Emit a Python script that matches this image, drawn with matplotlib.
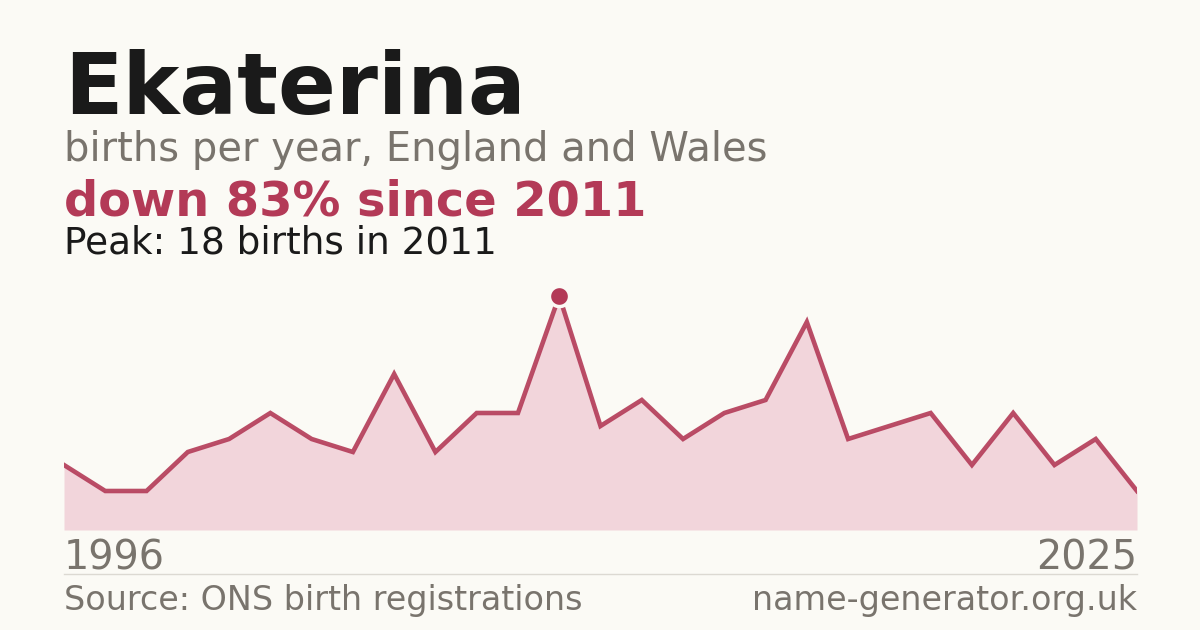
import numpy as np
import matplotlib.pyplot as plt

# Data (equally spaced points, first and last years labelled)
births = [5, 3, 3, 6, 7, 9, 7, 6, 12, 6, 9, 9, 18, 8, 10, 7, 9, 10, 16, 7, 8, 9, 5, 9, 5, 7, 3]
first_year = "1996"
last_year = "2025"

name = "Ekaterina"
subtitle = "births per year, England and Wales"
change_text = "down 83% since 2011"
peak_text = "Peak: 18 births in 2011"
source_text = "Source: ONS birth registrations"
site_text = "name-generator.org.uk"

# Colours
bg = "#fbfaf5"
dark = "#1a1a1a"
grey = "#79746d"
red = "#b33a57"
fill = "#f2d5db"

W, H = 1200, 630
fig = plt.figure(figsize=(12, 6.3), dpi=100, facecolor=bg)

# Chart area: x 64..1137 px, baseline at y=530 px, 13 px per birth
left, right, base = 64, 1137, 530
ymax = 20
px_per = 13
ax = fig.add_axes([left / W, 1 - base / H, (right - left) / W, ymax * px_per / H])
ax.set_facecolor(bg)

x = np.arange(len(births))
ax.fill_between(x, births, 0, color=fill, lw=0)
ax.plot(x, births, color=red, lw=3.3, solid_joinstyle="miter", alpha=0.9)
i_peak = int(np.argmax(births))
ax.plot(x[i_peak], births[i_peak], "o", ms=14.5, color=red, mec=bg, mew=2.5, clip_on=False, zorder=5)

ax.set_xlim(0, len(births) - 1)
ax.set_ylim(0, ymax)
ax.axis("off")

# Text
def fy(py):
    return 1 - py / H

fig.text(64 / W, fy(114), name, fontsize=61.6, fontweight="bold", color=dark, va="baseline")
fig.text(64 / W, fy(161), subtitle, fontsize=28.8, color=grey, va="baseline")
fig.text(64 / W, fy(215), change_text, fontsize=34.5, fontweight="bold", color=red, va="baseline")
fig.text(64 / W, fy(254), peak_text, fontsize=26.9, color=dark, va="baseline")

fig.text(64 / W, fy(569), first_year, fontsize=28.6, color=grey, va="baseline")
fig.text(1137 / W, fy(569), last_year, fontsize=28.6, color=grey, va="baseline", ha="right")

fig.add_artist(plt.Line2D([64 / W, 1137 / W], [fy(574), fy(574)], color="#dcd9d2", lw=1))

fig.text(64 / W, fy(610), source_text, fontsize=24, color=grey, va="baseline")
fig.text(1137 / W, fy(610), site_text, fontsize=24, color=grey, va="baseline", ha="right")

fig.savefig("out.png", dpi=100, facecolor=bg)
